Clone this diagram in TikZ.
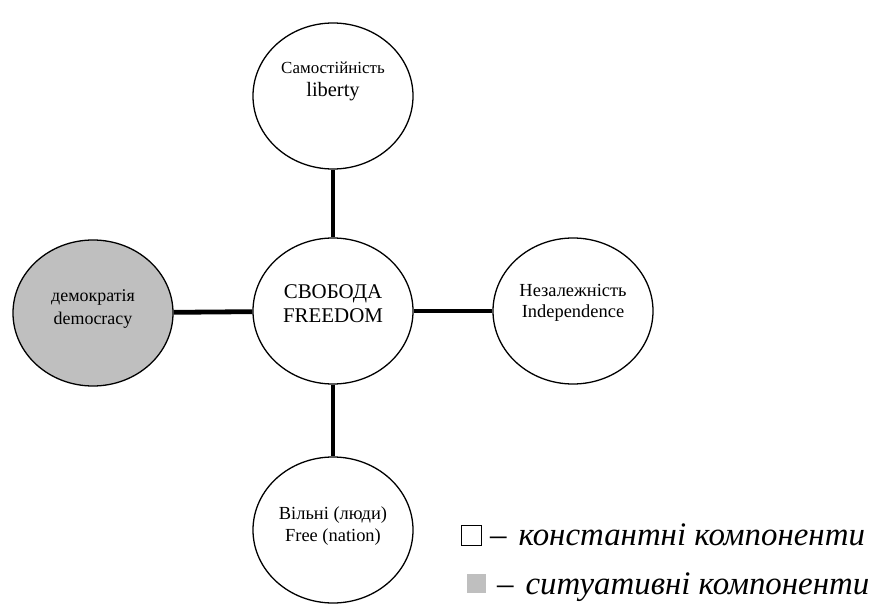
\documentclass[tikz,border=0pt]{standalone}
\usepackage{fontspec}
\setmainfont{Liberation Serif}
\usetikzlibrary{shapes.geometric}
\begin{document}
\begin{tikzpicture}[x=1bp,y=-1bp,
  concept/.style={ellipse,draw=black,line width=1.3bp,minimum width=160bp,minimum height=146bp,inner sep=0pt},
  situative/.style={concept,fill=black!25},
  link/.style={line width=4.8bp},
  caption/.style={align=center,inner sep=0pt},
  legendtext/.style={anchor=base west,inner sep=0pt,font=\fontsize{33}{35}\selectfont\itshape}]
\useasboundingbox (0,0) rectangle (875,604);

% concept bubbles
\node[concept]   (lib)  at (333,96)  {};
\node[concept]   (free) at (333,311) {};
\node[situative] (dem)  at (93,313)  {};
\node[concept]   (ind)  at (573,311) {};
\node[concept]   (nat)  at (333,530) {};

% links from the core concept
\draw[link] (free) -- (lib);
\draw[link] (free) -- (dem);
\draw[link] (free) -- (ind);
\draw[link] (free) -- (nat);

% captions
\node[caption,font=\fontsize{17}{20}\selectfont] (libT) at (333,68) {Самостійність};
\node[caption,font=\fontsize{20.5}{22}\selectfont] (libT2) at (333,92) {liberty};
\node[caption,font=\fontsize{21}{24}\selectfont] (freeT) at (333,304) {СВОБОДА\\FREEDOM};
\node[caption,font=\fontsize{18}{23}\selectfont] (demT) at (93,309) {демократія\\democracy};
\node[caption,font=\fontsize{18.5}{21}\selectfont] (indT) at (573,303) {Незалежність\\Independence};
\node[caption,font=\fontsize{18.5}{22}\selectfont] (natT) at (333,526) {Вільні (люди)\\Free (nation)};

% legend
\node[draw=black,line width=0.7bp,minimum width=20bp,minimum height=20bp,inner sep=0pt] (keyC) at (471,535) {};
\node[fill=black!25,minimum width=19bp,minimum height=19bp,inner sep=0pt] (keyS) at (476,583.5) {};
\node[legendtext] (legC) at (490,545) {–\hspace{12bp}константні компоненти};
\node[legendtext] (legS) at (497,594) {–\hspace{12bp}ситуативні компоненти};
\end{tikzpicture}
\end{document}
